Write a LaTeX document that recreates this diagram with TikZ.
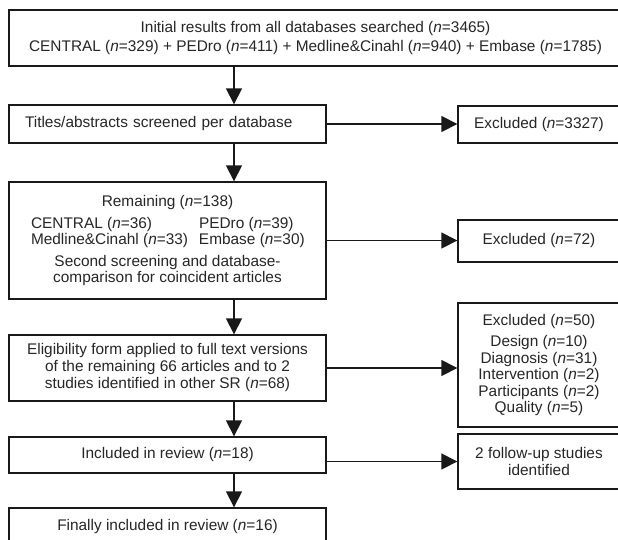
\documentclass[tikz,border=0pt]{standalone}
\usepackage{fontspec}
\setmainfont{Liberation Sans}
\usetikzlibrary{arrows.meta}
\newcommand{\nN}{\textit{n}}
\begin{document}
\begin{tikzpicture}[x=1pt,y=-1pt,
        box/.style={draw=black!90,line width=1.35pt,fill=white,inner sep=0pt,text=black!85,align=center,font=\fontsize{15.4}{16.4}\selectfont},
        lbox/.style={box,minimum width=317pt},
        rbox/.style={box,minimum width=162pt},
        arr/.style={line width=1.35pt,draw=black!90,-{Triangle[length=16pt,width=16pt]}}]
        \clip(0,0)rectangle(618,539);
        \fill[white](0,0)rectangle(618,539);
        \coordinate(ax)at(234,0);
        \node[box,minimum width=613pt,minimum height=56pt,font=\fontsize{15.4}{19}\selectfont](init)at(315.5,38){Initial results from all databases searched (\nN=3465)\\CENTRAL (\nN=329) + PEDro (\nN=411) + Medline\&Cinahl (\nN=940) + Embase (\nN=1785)};
        \node[lbox,minimum height=38pt,text width=285pt,align=left](title)at(167.5,124){Titles/abstracts screened per database};
        \node[lbox,minimum height=117pt](rem)at(167.5,240.5){Remaining (\nN=138)\\[6pt]
            \makebox[156pt][l]{CENTRAL (\nN=36)}\hspace{12pt}\makebox[105pt][l]{PEDro (\nN=39)}\\
            \makebox[156pt][l]{Medline\&Cinahl (\nN=33)}\hspace{12pt}\makebox[105pt][l]{Embase (\nN=30)}\\[5pt]
            Second screening and database-\\comparison for coincident articles};
        \node[lbox,minimum height=66pt,font=\fontsize{15.4}{17}\selectfont](elig)at(167.5,368){Eligibility form applied to full text versions\\of the remaining 66 articles and to 2\\studies identified in other SR (\nN=68)};
        \node[lbox,minimum height=36pt](incl)at(167.5,455){Included in review (\nN=18)};
        \node[lbox,minimum height=37pt](fin)at(167.5,526.5){Finally included in review (\nN=16)};
        \node[rbox,minimum height=37pt](exa)at(539,124.5){Excluded (\nN=3327)};
        \node[rbox,minimum height=42pt](exb)at(539,241){Excluded (\nN=72)};
        \node[rbox,minimum height=124pt](exc)at(539,365){Excluded (\nN=50)\\[5pt]Design (\nN=10)\\Diagnosis (\nN=31)\\Intervention (\nN=2)\\Participants (\nN=2)\\Quality (\nN=5)};
        \node[rbox,minimum height=55pt](fol)at(539,461.5){2 follow-up studies\\identified};
        \draw[arr](init.south-|ax)--(title.north-|ax);
        \draw[arr](title.south-|ax)--(rem.north-|ax);
        \draw[arr](rem.south-|ax)--(elig.north-|ax);
        \draw[arr](elig.south-|ax)--(incl.north-|ax);
        \draw[arr](incl.south-|ax)--(fin.north-|ax);
        \draw[arr](title.east)--(title.east-|exa.west);
        \draw[arr](rem.east)--(rem.east-|exb.west);
        \draw[arr](elig.east)--(elig.east-|exc.west);
        \draw[arr](fol.west-|incl.east)--(fol.west);
    \end{tikzpicture}
\end{document}
